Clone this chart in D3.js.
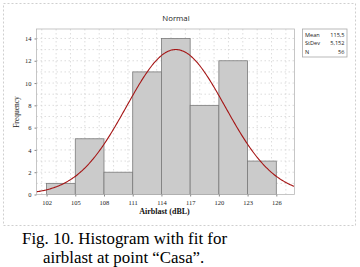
<!DOCTYPE html>
<html><head><meta charset="utf-8">
<script src="https://cdn.jsdelivr.net/npm/d3@7"></script>
<style>body{margin:0;background:#fff}svg{display:block}</style>
</head><body>
<script>
const binStarts = [102,105,108,111,114,117,120,123];
const binWidth = 3;
const counts = [1,5,2,11,14,8,12,3];
const xTicks = [102,105,108,111,114,117,120,123,126];
const yTicks = [0,2,4,6,8,10,12,14];
const statLabels = ["Mean","StDev","N"];
const statValues = ["115,5","5,152","56"];
const mean = 115.5, sd = 5.152, n = 56;
const title = "Normal";
const xLabel = "Airblast (dBL)";
const yLabel = "Frequency";
const caption = ["Fig. 10. Histogram with fit for","airblast at point \u201cCasa\u201d."];

const W = 360, H = 267;
const svg = d3.select("body").append("svg").attr("width",W).attr("height",H);
const L = 36.5, R = 294.5, T = 29, B = 194.5;
const x = d3.scaleLinear().domain([100.95,127.9]).range([L,R]);
const y = d3.scaleLinear().domain([0,14.85]).range([B,T]);

// outer frame
svg.append("rect").attr("x",3.5).attr("y",3.5).attr("width",352).attr("height",222)
  .attr("fill","none").attr("stroke","#cfcfcf").attr("stroke-dasharray","2,2");

// grid
const g = svg.append("g");
d3.range(101.5,127.9,1.5).forEach(v=>{
  g.append("line").attr("x1",x(v)).attr("x2",x(v)).attr("y1",T).attr("y2",B)
   .attr("stroke","#d4d4d4").attr("stroke-width",0.8).attr("stroke-dasharray","1.5,2.5");
});
d3.range(1,15,1).forEach(v=>{
  g.append("line").attr("x1",L).attr("x2",R).attr("y1",y(v)).attr("y2",y(v))
   .attr("stroke","#d4d4d4").attr("stroke-width",0.8).attr("stroke-dasharray","1.5,2.5");
});

// bars
svg.append("g").selectAll("rect").data(binStarts).join("rect")
  .attr("x",d=>x(d)).attr("width",d=>x(d+binWidth)-x(d))
  .attr("y",(d,i)=>y(counts[i])).attr("height",(d,i)=>B-y(counts[i]))
  .attr("fill","#cbcbcb").attr("stroke","#7a7a7a").attr("stroke-width",0.8);

// curve
const pts = d3.range(100.95,127.91,0.1).map(v=>[v, n*binWidth*Math.exp(-0.5*((v-mean)/sd)**2)/(sd*Math.sqrt(2*Math.PI))]);
svg.append("path").datum(pts)
  .attr("d",d3.line().x(d=>x(d[0])).y(d=>y(d[1])).curve(d3.curveBasis))
  .attr("fill","none").attr("stroke","#a51515").attr("stroke-width",1.1);

// plot border
svg.append("rect").attr("x",L).attr("y",T).attr("width",R-L).attr("height",B-T)
  .attr("fill","none").attr("stroke","#b8b8b8").attr("stroke-width",0.8);

// axes
const xa = svg.append("g").attr("transform",`translate(0,${B})`)
  .call(d3.axisBottom(x).tickValues(xTicks).tickSize(2).tickSizeOuter(0));
const ya = svg.append("g").attr("transform",`translate(${L},0)`)
  .call(d3.axisLeft(y).tickValues(yTicks).tickSize(2).tickSizeOuter(0));
[xa,ya].forEach(a=>{
  a.select(".domain").remove();
  a.selectAll("line").attr("stroke","#888");
  a.selectAll("text").attr("font-family","Liberation Serif").attr("font-size",6.5).attr("fill","#222");
});
xa.selectAll("text").attr("dy","0.9em");

// title
svg.append("text").attr("x",176).attr("y",20.5).attr("text-anchor","middle")
  .attr("font-family","Open Sans").attr("font-size",7.8).attr("fill","#222").text(title);

// axis labels
svg.append("text").attr("x",164.5).attr("y",214).attr("text-anchor","middle")
  .attr("font-family","Liberation Serif").attr("font-weight","bold").attr("font-size",8).attr("fill","#111").text(xLabel);
svg.append("text").attr("transform","translate(18.5,112) rotate(-90)").attr("text-anchor","middle")
  .attr("font-family","Liberation Serif").attr("font-size",7.5).attr("fill","#222").text(yLabel);

// stats box
svg.append("rect").attr("x",302.5).attr("y",29).attr("width",44.5).attr("height",28)
  .attr("fill","#fff").attr("stroke","#a8a8a8").attr("stroke-width",0.8);
statLabels.forEach((s,i)=>{
  svg.append("text").attr("x",305).attr("y",37+i*8.3).attr("font-family","Open Sans").attr("font-size",5.6).attr("fill","#222").text(s);
  svg.append("text").attr("x",344.5).attr("y",37+i*8.3).attr("text-anchor","end").attr("font-family","Open Sans").attr("font-size",5.6).attr("fill","#222").text(statValues[i]);
});

// caption
svg.append("text").attr("x",22).attr("y",244.3).attr("font-family","Liberation Serif").attr("font-size",16.9).attr("fill","#000").text(caption[0]);
svg.append("text").attr("x",43).attr("y",263.3).attr("font-family","Liberation Serif").attr("font-size",16.9).attr("fill","#000").text(caption[1]);
</script>
</body></html>
